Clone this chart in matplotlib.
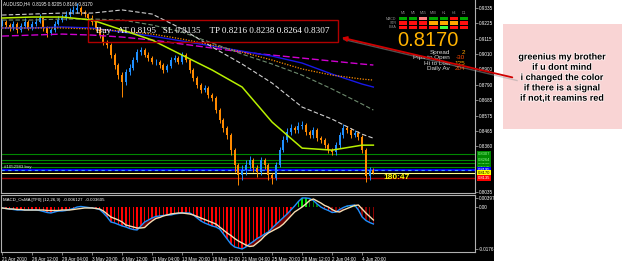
import matplotlib
matplotlib.use("Agg")
import matplotlib.pyplot as plt
import numpy as np
from matplotlib.patches import Rectangle
from matplotlib.transforms import blended_transform_factory
import matplotlib.patheffects as pe

plt.rcParams['font.family'] = ['Liberation Sans', 'DejaVu Sans']

# ---- AUDUSD H4 price bars ----
closes = [0.9234, 0.9213, 0.9192, 0.9220, 0.9178, 0.9206, 0.9234, 0.9192, 0.9220,
          0.9234, 0.9262, 0.9192, 0.9156, 0.9178, 0.9220, 0.9248, 0.9262,
          0.9283, 0.9304, 0.9319, 0.9333, 0.9304, 0.9290, 0.9262, 0.9234,
          0.9192, 0.9142, 0.9093, 0.9072, 0.9001, 0.8931, 0.8860, 0.8811,
          0.8881, 0.8910, 0.8966, 0.9022, 0.9036, 0.9001, 0.8980, 0.8952,
          0.8952, 0.8931, 0.8896, 0.8924, 0.8966, 0.8980, 0.8952, 0.9001,
          0.8966, 0.8896, 0.8839, 0.8790, 0.8754, 0.8769, 0.8719, 0.8698,
          0.8614, 0.8543, 0.8487, 0.8437, 0.8332, 0.8225, 0.8155, 0.8190,
          0.8225, 0.8261, 0.8204, 0.8176, 0.8261, 0.8225, 0.8155, 0.8134,
          0.8225, 0.8332, 0.8402, 0.8458, 0.8487, 0.8472, 0.8501, 0.8508,
          0.8458, 0.8437, 0.8472, 0.8416, 0.8402, 0.8367, 0.8332, 0.8317,
          0.8367, 0.8437, 0.8487, 0.8472, 0.8437, 0.8451, 0.8423, 0.8332,
          0.8150, 0.8195, 0.8170]
highs = [0.9255, 0.9250, 0.9225, 0.9240, 0.9235, 0.9225, 0.9260, 0.9245, 0.9240,
         0.9265, 0.9290, 0.9270, 0.9205, 0.9195, 0.9240, 0.9275, 0.9290,
         0.9310, 0.9330, 0.9350, 0.9365, 0.9345, 0.9320, 0.9300, 0.9280,
         0.9245, 0.9200, 0.9160, 0.9110, 0.9085, 0.9015, 0.8945, 0.8880,
         0.8900, 0.8935, 0.8990, 0.9045, 0.9060, 0.9050, 0.9020, 0.8995,
         0.8975, 0.8970, 0.8945, 0.8940, 0.8985, 0.9005, 0.8995, 0.9025,
         0.9015, 0.8975, 0.8910, 0.8855, 0.8805, 0.8790, 0.8780, 0.8735,
         0.8710, 0.8630, 0.8560, 0.8505, 0.8450, 0.8345, 0.8240, 0.8230,
         0.8260, 0.8290, 0.8275, 0.8225, 0.8285, 0.8275, 0.8240, 0.8170,
         0.8250, 0.8355, 0.8430, 0.8485, 0.8515, 0.8505, 0.8530, 0.8535,
         0.8520, 0.8475, 0.8495, 0.8485, 0.8430, 0.8415, 0.8380, 0.8350,
         0.8390, 0.8460, 0.8515, 0.8500, 0.8485, 0.8475, 0.8465, 0.8440,
         0.8345, 0.8215, 0.8205]
lows = [0.9205, 0.9195, 0.9170, 0.9180, 0.9160, 0.9165, 0.9195, 0.9175, 0.9180,
        0.9205, 0.9225, 0.9170, 0.9130, 0.9140, 0.9165, 0.9210, 0.9235,
        0.9250, 0.9270, 0.9290, 0.9300, 0.9285, 0.9270, 0.9240, 0.9215,
        0.9170, 0.9120, 0.9075, 0.9050, 0.8980, 0.8905, 0.8830, 0.8705,
        0.8790, 0.8860, 0.8895, 0.8950, 0.9005, 0.8985, 0.8960, 0.8935,
        0.8930, 0.8910, 0.8875, 0.8880, 0.8910, 0.8950, 0.8935, 0.8940,
        0.8950, 0.8875, 0.8820, 0.8770, 0.8735, 0.8740, 0.8700, 0.8675,
        0.8590, 0.8520, 0.8460, 0.8410, 0.8300, 0.8180, 0.8085, 0.8120,
        0.8160, 0.8200, 0.8180, 0.8140, 0.8160, 0.8200, 0.8120, 0.8095,
        0.8120, 0.8215, 0.8320, 0.8390, 0.8440, 0.8450, 0.8455, 0.8480,
        0.8440, 0.8415, 0.8420, 0.8395, 0.8380, 0.8345, 0.8310, 0.8295,
        0.8300, 0.8350, 0.8420, 0.8450, 0.8420, 0.8425, 0.8400, 0.8310,
        0.8110, 0.8125, 0.8166]
first_open = 0.9220
opens = [first_open] + closes[:-1]

# moving averages, read every 16 H4 bars
ma_idx = [0, 8, 16, 24, 32, 40, 48, 56, 64, 72, 80, 88, 96, 99]
ma_fast = [0.9262, 0.9269, 0.9269, 0.9248, 0.9178, 0.9107, 0.9001, 0.8896, 0.8776, 0.8529, 0.8346, 0.8332, 0.8367, 0.8367]
ma_grey = [0.9283, 0.9290, 0.9297, 0.9297, 0.9319, 0.9290, 0.9185, 0.9058, 0.8938, 0.8804, 0.8635, 0.8550, 0.8444, 0.8416]
ma_olive = [0.9248, 0.9248, 0.9255, 0.9255, 0.9248, 0.9213, 0.9163, 0.9086, 0.9008, 0.8938, 0.8860, 0.8762, 0.8656, 0.8614]
ma_orange = [0.9192, 0.9192, 0.9192, 0.9185, 0.9170, 0.9149, 0.9114, 0.9072, 0.9022, 0.8966, 0.8903, 0.8860, 0.8832, 0.8825]
ma_blue = [0.9192, 0.9192, 0.9199, 0.9192, 0.9163, 0.9135, 0.9100, 0.9065, 0.9029, 0.8994, 0.8945, 0.8867, 0.8797, 0.8776]
ma_magenta = [0.9135, 0.9142, 0.9149, 0.9142, 0.9128, 0.9107, 0.9079, 0.9051, 0.9022, 0.9001, 0.8980, 0.8959, 0.8938, 0.8931]

# MACD_OsMA window
macd = [-0.00027, -0.00048, -0.00069, -0.00091, -0.00112, -0.00112, -0.00112, -0.00112, -0.00112,
        -0.00112, -0.00133, -0.00175, -0.00218, -0.00239, -0.00197, -0.00154, -0.00154,
        -0.00133, -0.00091, -0.00048, 0.00015, 0.00037, 0.00015, -0.00006, -0.00027,
        -0.00048, -0.00091, -0.00239, -0.00409, -0.00621, -0.00663, -0.00727, -0.00790,
        -0.00833, -0.00896, -0.00939, -0.00960, -0.00790, -0.00621, -0.00536, -0.00451,
        -0.00387, -0.00366, -0.00345, -0.00324, -0.00324, -0.00281, -0.00260, -0.00239,
        -0.00239, -0.00239, -0.00324, -0.00451, -0.00578, -0.00663, -0.00727, -0.00790,
        -0.00833, -0.00917, -0.01129, -0.01341, -0.01553, -0.01680, -0.01723, -0.01765,
        -0.01680, -0.01553, -0.01447, -0.01320, -0.01235, -0.01129, -0.01045, -0.00875,
        -0.00727, -0.00578, -0.00430, -0.00281, -0.00112, 0.00058, 0.00249, 0.00397,
        0.00397, 0.00376, 0.00291, 0.00143, 0.00015, -0.00069, -0.00133, -0.00218,
        -0.00197, -0.00091, -0.00006, 0.00058, 0.00079, 0.00100, -0.00112, -0.00409,
        -0.00557, -0.00642, -0.00705]
signal = [-0.00027, -0.00048, -0.00069, -0.00069, -0.00091, -0.00091, -0.00112, -0.00112, -0.00112,
          -0.00112, -0.00112, -0.00112, -0.00133, -0.00133, -0.00133, -0.00133, -0.00112,
          -0.00112, -0.00112, -0.00091, -0.00069, -0.00048, -0.00027, -0.00027, -0.00027,
          -0.00048, -0.00069, -0.00154, -0.00281, -0.00409, -0.00472, -0.00536, -0.00621,
          -0.00748, -0.00790, -0.00833, -0.00875, -0.00875, -0.00854, -0.00705, -0.00578,
          -0.00472, -0.00430, -0.00366, -0.00324, -0.00281, -0.00260, -0.00239, -0.00239,
          -0.00260, -0.00281, -0.00324, -0.00387, -0.00451, -0.00515, -0.00578, -0.00642,
          -0.00705, -0.00833, -0.00960, -0.01087, -0.01193, -0.01320, -0.01426, -0.01511,
          -0.01596, -0.01659, -0.01638, -0.01511, -0.01384, -0.01214, -0.01087, -0.01002,
          -0.00917, -0.00833, -0.00705, -0.00536, -0.00366, -0.00197, -0.00091, 0.00015,
          0.00143, 0.00291, 0.00355, 0.00270, 0.00185, 0.00079, 0.00015, -0.00091,
          -0.00175, -0.00197, -0.00112, -0.00048, 0.00015, 0.00079, 0.00100, -0.00069,
          -0.00239, -0.00387, -0.00536]

time_ticks = [0, 8, 16, 24, 32, 40, 48, 56, 64, 72, 80, 88, 96]
time_labels = ["21 Apr 2010", "26 Apr 12:00", "29 Apr 04:00", "3 May 20:00", "6 May 12:00",
               "11 May 04:00", "13 May 20:00", "18 May 12:00", "21 May 04:00", "25 May 20:00",
               "28 May 12:00", "2 Jun 04:00", "4 Jun 20:00"]
price_ticks = [0.9335, 0.9225, 0.9115, 0.9010, 0.8900, 0.8790, 0.8685, 0.8575, 0.8465, 0.8360, 0.8035]
macd_ticks = [0.00397, 0.0, -0.01767]
macd_tick_labels = ["0.00397", "0.00", "-0.01767"]

tp_levels = [0.8216, 0.8238, 0.8264, 0.8307]
entry = 0.8195
stop = 0.8135
bid = 0.8170
ticket = "#1052983 buy"
countdown = "180:47"

tf_names = ["M1", "M5", "M15", "M30", "H1", "H4", "D1"]
row_names = ["MACD", "STR", "EMA"]
states = [["up", "up", "weak_dn", "up", "up", "dn", "up"],
          ["dn", "dn", "dn", "flat", "flat", "flat", "dn"],
          ["dn", "dn", "dn", "dn", "strong_up", "dn", "dn"]]
stat_names = ["Spread", "Pips to Open", "Hi to Low", "Daily Av"]
stat_values = ["2", "-30", "125", "204"]

note_lines = ["greenius my brother", "if u dont mind", "i changed the color",
              "if there is a signal", "if not,it reamins red"]

# ---- figure ----
W, H = 625, 261
def fx(px):
    return px / W
def fy(py):
    return 1 - py / H

fig = plt.figure(figsize=(W / 100, H / 100), dpi=100, facecolor='white')
fig.patches.append(Rectangle((0, 0), fx(494), 1, transform=fig.transFigure,
                             facecolor='black', edgecolor='none', zorder=-5))

bar_px = 3.75
xlim = (-0.3, 474 / bar_px - 0.3)
grid_col = '#B0B0B0'

ax = fig.add_axes([fx(1), fy(193), fx(474), 193 / H])
ax.set_facecolor('black')
ax.set_xlim(*xlim)
ax.set_ylim(0.8030, 0.9389)

idx = np.arange(len(closes))
o = np.array(opens)
c = np.array(closes)
col = np.where(c >= o, '#2090FF', '#FF8A00')

# levels
for lv in tp_levels:
    ax.axhline(lv, color='#008800', lw=0.8, zorder=1)
ax.axhline(entry, color='#0000FF', lw=1.6, zorder=1)
ax.axhline(entry, color='#40A0FF', lw=0.8, ls=(0, (3, 3)), zorder=1)
ax.axhline(bid, color='#FFFF90', lw=0.8, zorder=1)
ax.axhline(stop, color='#A00000', lw=1.0, zorder=1)

# bars
ax.vlines(idx, lows, highs, colors=col, lw=0.7, zorder=2)
ax.bar(idx, np.maximum(np.abs(c - o), 0.0003), bottom=np.minimum(o, c),
       width=0.5, color=col, zorder=2)

# moving averages
ax.plot(ma_idx, ma_magenta, color='#D000D0', lw=1.0, ls=(0, (5, 2)), zorder=3)
ax.plot(ma_idx, ma_blue, color='#1818E8', lw=1.0, zorder=3)
ax.plot(ma_idx, ma_orange, color='#FF8C00', lw=0.9, ls=(0, (1, 1.2)), zorder=3)
ax.plot(ma_idx, ma_olive, color='#6E8B6E', lw=0.8, ls=(0, (4, 2)), zorder=3)
ax.plot(ma_idx, ma_grey, color='#D0D0D0', lw=0.8, ls=(0, (4, 2)), zorder=3)
ax.plot(ma_idx, ma_fast, color='#B8F000', lw=1.1, zorder=3)

ax.yaxis.tick_right()
ax.set_yticks(price_ticks)
ax.set_yticklabels([f"{p:.4f}" for p in price_ticks])
ax.tick_params(axis='y', labelsize=3.3, colors='white', length=2, pad=1, width=0.5)
ax.tick_params(axis='y', color=grid_col)
ax.set_xticks([])
ax.spines['top'].set_visible(False)
for s in ['left', 'right', 'bottom']:
    ax.spines[s].set_color(grid_col)
    ax.spines[s].set_linewidth(0.8)

# price boxes on the right scale
bt = blended_transform_factory(ax.transAxes, ax.transData)
for lv in tp_levels:
    ax.text(1.006, lv, f"{lv:.4f}", transform=bt, fontsize=3.0, va='center', ha='left',
            color='#90FF90', bbox=dict(facecolor='#008800', edgecolor='none', pad=0.7), zorder=5)
ax.text(1.006, entry, f"{entry:.4f}", transform=bt, fontsize=3.0, va='center', ha='left',
        color='white', bbox=dict(facecolor='#0000FF', edgecolor='none', pad=0.5), zorder=5)
ax.text(1.006, bid, f"{bid:.4f}", transform=bt, fontsize=3.0, va='center', ha='left',
        color='black', bbox=dict(facecolor='#FFFF00', edgecolor='none', pad=0.5), zorder=5)
ax.text(1.006, stop, f"{stop:.4f}", transform=bt, fontsize=3.0, va='center', ha='left',
        color='white', bbox=dict(facecolor='#FF0000', edgecolor='none', pad=0.7), zorder=5)

ax.text(0.004, 0.992, "AUDUSD,H4  " + " ".join(f"{v:.4f}" for v in
        [opens[-1], highs[-1], lows[-1], closes[-1]]),
        transform=ax.transAxes, fontsize=3.3, color='white', va='top', ha='left')
ax.text(0.5, entry + 0.0004, ticket, fontsize=3.2, color='#E0E0E0', va='bottom', ha='left')
ax.text(idx[-1] + 2.7, stop + 0.0006, countdown, fontsize=6, color='#FFFF00',
        fontweight='bold', va='center', ha='left')

# ---- MACD window ----
ax2 = fig.add_axes([fx(1), fy(252), fx(474), 57 / H])
ax2.set_facecolor('black')
ax2.set_xlim(*xlim)
ax2.set_ylim(-0.01893, 0.00524)
m = np.array(macd)
sg = np.array(signal)
hist_cols = []
for i, v in enumerate(m):
    if v >= 0:
        hist_cols.append('#00E000' if i == 0 or v >= m[i - 1] else '#008000')
    else:
        hist_cols.append('#FF0000' if i < 88 else '#8B0000')
ax2.bar(idx, m, width=0.45, color=hist_cols, zorder=1)
ax2.fill_between(idx, m, sg, where=(m > sg) & (m < 0), interpolate=True,
                 color='#700000', lw=0, zorder=1)
ax2.plot(idx, m, color='#2090FF', lw=1.0, zorder=2)
ax2.plot(idx, sg, color='#F5DEB3', lw=1.0, zorder=3)

ax2.yaxis.tick_right()
ax2.set_yticks(macd_ticks)
ax2.set_yticklabels(macd_tick_labels)
ax2.tick_params(axis='y', labelsize=3.3, colors='white', length=2, pad=1, width=0.5)
ax2.tick_params(axis='y', color=grid_col)
ax2.set_xticks(time_ticks)
ax2.set_xticklabels(time_labels, ha='left')
ax2.tick_params(axis='x', labelsize=3.3, colors='white', length=2, pad=1.5, width=0.5)
ax2.tick_params(axis='x', color=grid_col)
for s in ax2.spines.values():
    s.set_color(grid_col)
    s.set_linewidth(0.8)
ax2.text(0.005, 0.95, "MACD_OsMA [TF0] (12,26,9)  -0.006127  -0.003605",
         transform=ax2.transAxes, fontsize=3.2, color='white', va='top', ha='left')

# ---- trade info box ----
fig.patches.append(Rectangle((fx(88), fy(42)), fx(338) - fx(88), 22 / H, transform=fig.transFigure,
                             fill=False, edgecolor='#B00000', lw=1.0, zorder=6))
info = (f"Buy   AT {entry:.4f}   SL {stop:.4f}    TP "
        + " ".join(f"{t:.4f}" for t in tp_levels))
fig.text(fx(96), fy(31), info, color='white', fontsize=6.6, family='Liberation Serif',
         va='center', ha='left', zorder=7)

# ---- dashboard ----
state_colors = {"up": '#00A800', "dn": '#FF1010', "weak_dn": '#FF8080',
                "flat": '#FFA800', "strong_up": '#40FF40'}
axd = fig.add_axes([fx(398), fy(29.5), fx(71), 13 / H])
axd.set_xlim(0, len(tf_names))
axd.set_ylim(len(row_names), 0)
axd.axis('off')
for r, row in enumerate(states):
    for j, st in enumerate(row):
        axd.add_patch(Rectangle((j + 0.1, r + 0.12), 0.8, 0.76, facecolor=state_colors[st],
                                edgecolor='none'))
for j, name in enumerate(tf_names):
    axd.text(j + 0.5, -0.25, name, fontsize=2.6, color='#909090', ha='center', va='bottom')
for r, name in enumerate(row_names):
    axd.text(-0.15, r + 0.5, name, fontsize=2.6, color='#909090', ha='right', va='center')

fig.text(fx(397), fy(40), f"{bid:.4f}", color='#FFB300', fontsize=14.5, va='center', ha='left')
stat_cols = ['#FFA500', '#FF4A00', '#FFA500', '#FF4A00']
for k, (nm, val) in enumerate(zip(stat_names, stat_values)):
    yy = fy(52.5 + k * 5.3)
    fig.text(fx(450), yy, nm, color='#D8D8D8', fontsize=4.6, ha='right', va='center')
    fig.text(fx(465), yy, val, color=stat_cols[k], fontsize=4.6, ha='right', va='center')

# ---- pink note with arrow ----
fig.patches.append(Rectangle((fx(503), fy(129)), fx(622) - fx(503), 105 / H,
                             transform=fig.transFigure, facecolor='#F9D4D4',
                             edgecolor='none', zorder=1))
for k, line in enumerate(note_lines):
    fig.text(fx(562), fy(57 + k * 10.3), line, fontsize=6.5, fontweight='bold', color='black',
             ha='center', va='center', zorder=3,
             path_effects=[pe.withStroke(linewidth=1.2, foreground='#FFF4F4')])

fig.lines.append(plt.Line2D([fx(344), fx(517)], [fy(39.5), fy(80.5)], transform=fig.transFigure,
                            color='#A0A0A0', lw=1.0, alpha=0.5, zorder=8))
fig.add_artist(matplotlib.patches.FancyArrowPatch(
    (fx(515), fy(78)), (fx(339), fy(37)), transform=fig.transFigure,
    arrowstyle='-|>', mutation_scale=7, color='#D00000', lw=1.3, zorder=9))

fig.savefig("out.png", dpi=100, facecolor='white')
